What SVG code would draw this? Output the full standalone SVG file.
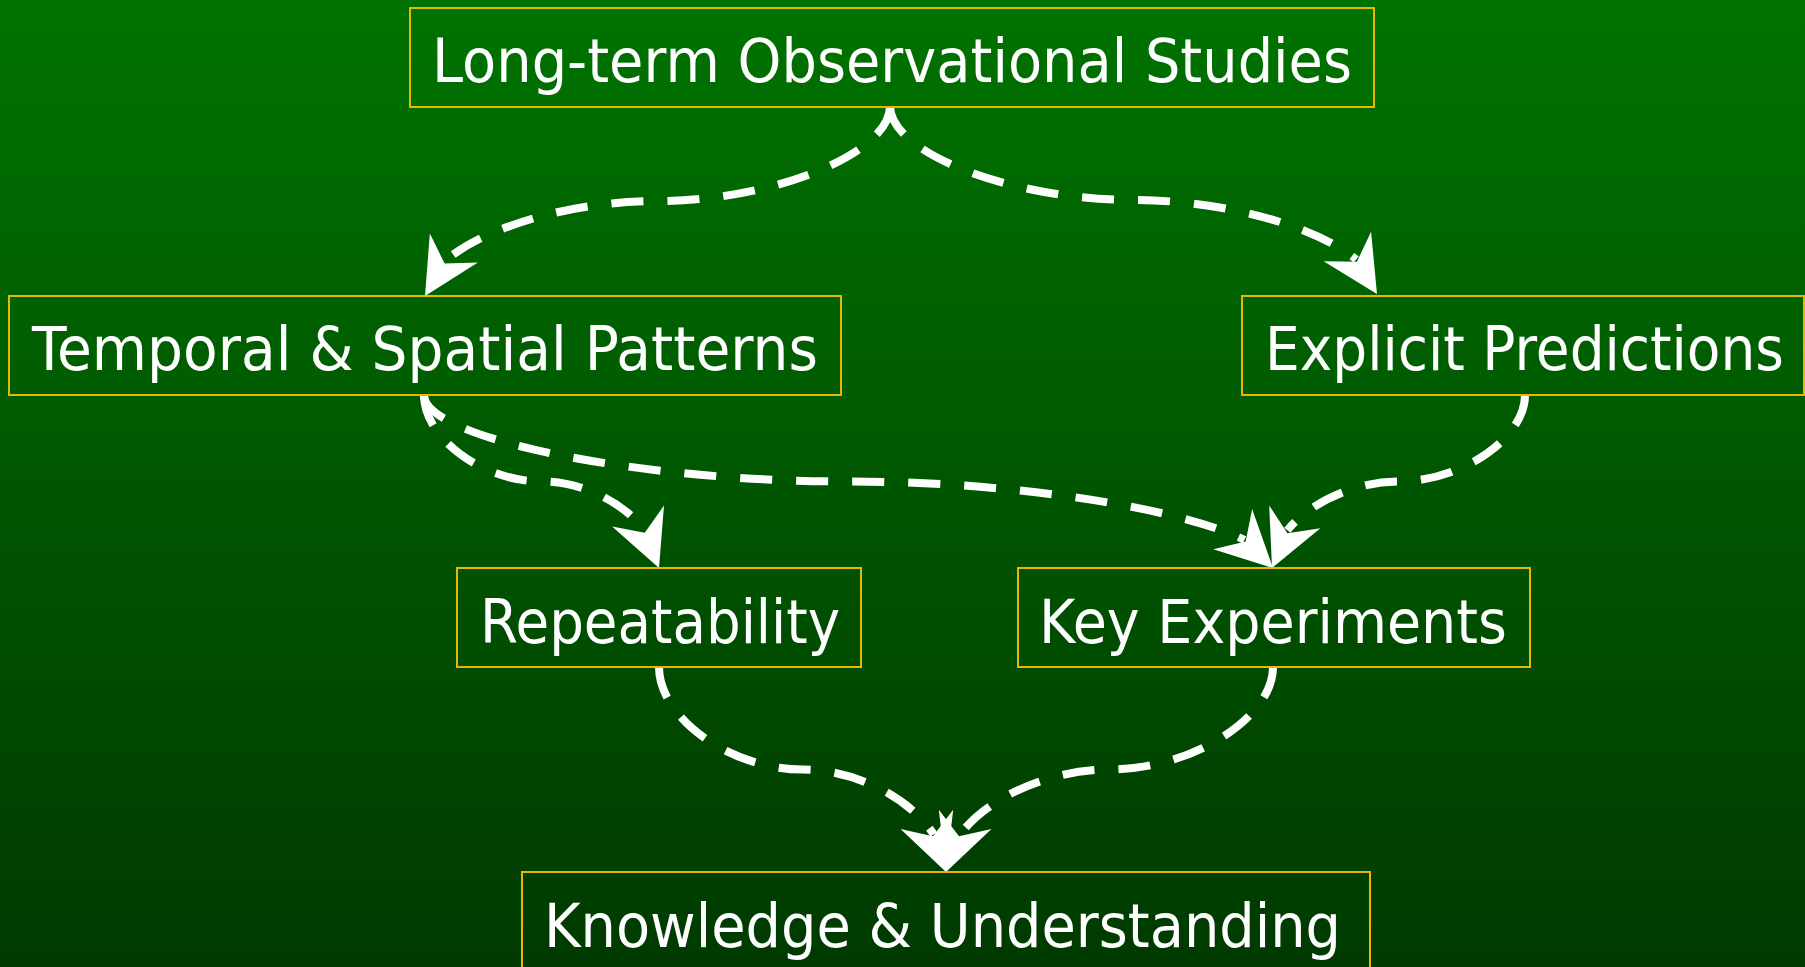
<svg xmlns="http://www.w3.org/2000/svg" xmlns:xlink="http://www.w3.org/1999/xlink" width="1805" height="967" viewBox="0 0 1805 967">
  <defs>
    <linearGradient id="bg" x1="0" y1="0" x2="0" y2="1">
      <stop offset="0" stop-color="#007300"/>
      <stop offset="1" stop-color="#003a00"/>
    </linearGradient>
    <path id="ah" d="M0,0 L-56,-28 L-38,0 L-56,28 Z"/>
    <style>
      .box { fill: none; stroke: #e8b800; stroke-width: 2; }
      .lbl { font-family: "DejaVu Sans", "Liberation Sans", sans-serif; font-size: 61px; fill: #ffffff; text-anchor: middle; }
      .conn { fill: none; stroke: #ffffff; stroke-width: 8; stroke-dasharray: 32 24; stroke-linecap: butt; }
      .head { fill: #ffffff; stroke: none; }
    </style>
  </defs>
  <rect x="0" y="0" width="1805" height="967" fill="url(#bg)"/>

  <g id="connectors">
    <path class="conn" d="M890,106 C890,153.5 773.75,201 657.5,201 C570.3,201 483.1,227.7 445,261.1"/>
    <path class="conn" d="M890,106 C890,153 1011.75,200 1133.5,200 C1224.8,200 1316.2,226.4 1356.1,259.5"/>
    <path class="conn" d="M424,395 C424,438.25 482.75,481.5 541.5,481.5 C582.6,481.5 623.8,502.7 644.7,530.2"/>
    <path class="conn" d="M424,395 C424,438.25 636.25,481.5 848.5,481.5 C1014.1,481.5 1179.7,507.8 1244.4,539.9"/>
    <path class="conn" d="M1525,395 C1525,438.25 1461.75,481.5 1398.5,481.5 C1354.2,481.5 1310,502.7 1287.4,530.2"/>
    <path class="conn" d="M659,667 C659,718.25 730.75,769.5 802.5,769.5 C856.3,769.5 910.1,798.3 933.7,834.4"/>
    <path class="conn" d="M1273,667 C1273,718.25 1191.25,769.5 1109.5,769.5 C1048.2,769.5 986.9,798.3 960.1,834.4"/>
    <use class="head" xlink:href="#ah" href="#ah" transform="translate(425,296) rotate(121)"/>
    <use class="head" xlink:href="#ah" href="#ah" transform="translate(1377,294) rotate(58)"/>
    <use class="head" xlink:href="#ah" href="#ah" transform="translate(659,568) rotate(68)"/>
    <use class="head" xlink:href="#ah" href="#ah" transform="translate(1273,568) rotate(44)"/>
    <use class="head" xlink:href="#ah" href="#ah" transform="translate(1272,568) rotate(114)"/>
    <use class="head" xlink:href="#ah" href="#ah" transform="translate(946,872) rotate(70)"/>
    <use class="head" xlink:href="#ah" href="#ah" transform="translate(946,872) rotate(110)"/>
  </g>

  <g id="node-observational">
    <rect class="box" x="410" y="8" width="964" height="99"/>
    <text class="lbl" x="892" y="82" textLength="920" lengthAdjust="spacingAndGlyphs">Long-term Observational Studies</text>
  </g>
  <g id="node-patterns">
    <rect class="box" x="9" y="296" width="832" height="99"/>
    <text class="lbl" x="425" y="370" textLength="786" lengthAdjust="spacingAndGlyphs">Temporal &amp; Spatial Patterns</text>
  </g>
  <g id="node-predictions">
    <rect class="box" x="1242" y="296" width="562" height="99"/>
    <text class="lbl" x="1524.5" y="370" textLength="519" lengthAdjust="spacingAndGlyphs">Explicit Predictions</text>
  </g>
  <g id="node-repeatability">
    <rect class="box" x="457" y="568" width="404" height="99"/>
    <text class="lbl" x="660" y="643" textLength="360" lengthAdjust="spacingAndGlyphs">Repeatability</text>
  </g>
  <g id="node-experiments">
    <rect class="box" x="1018" y="568" width="512" height="99"/>
    <text class="lbl" x="1273" y="643" textLength="468" lengthAdjust="spacingAndGlyphs">Key Experiments</text>
  </g>
  <g id="node-knowledge">
    <rect class="box" x="522" y="872" width="848" height="99"/>
    <text class="lbl" x="942.5" y="947" textLength="797" lengthAdjust="spacingAndGlyphs">Knowledge &amp; Understanding</text>
  </g>
</svg>
